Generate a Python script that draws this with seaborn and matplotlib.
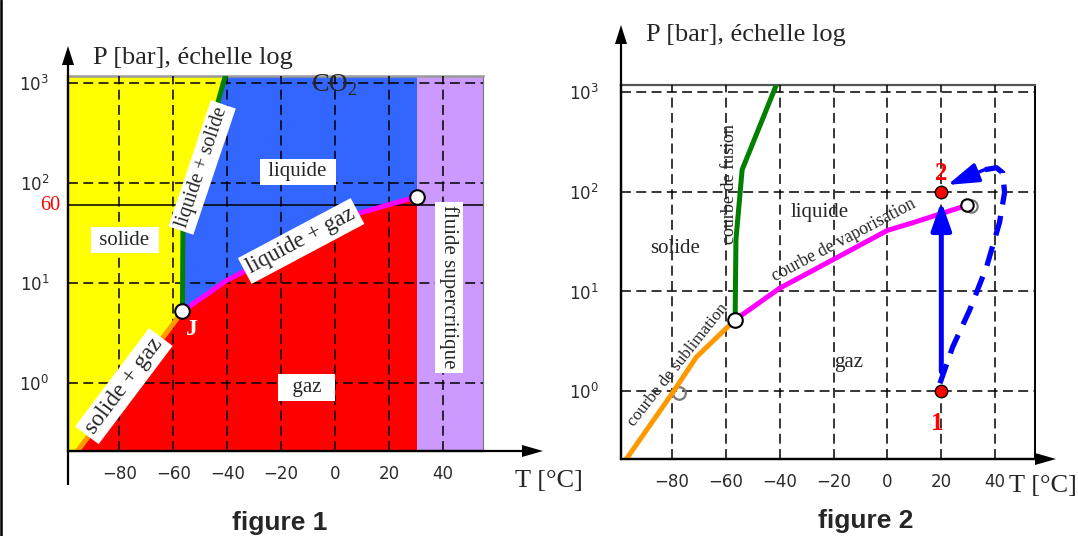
import matplotlib
matplotlib.use("Agg")
import matplotlib.pyplot as plt
import seaborn as sns
from matplotlib.lines import Line2D
from matplotlib.patches import Polygon
from matplotlib.ticker import FixedLocator, NullLocator
from matplotlib.transforms import blended_transform_factory

# ---------------------------------------------------------------- data
# axis ranges and ticks: temperature in °C, pressure in bar (log scale)
T_RANGE = (-99.0, 54.8)
P_RANGE = (0.209, 1175.0)
T_TICKS = [-80, -60, -40, -20, 0, 20, 40]
P_TICKS = [1, 10, 100, 1000]

# triple point J and critical point of CO2
T_TRIPLE, P_TRIPLE = -56.6, 5.2
T_CRIT, P_CRIT = 30.4, 73.0
P_MARK = 60  # isobar drawn in figure 1

# figure 1 : phase boundaries
f1_sub_T = [-95.5, -61.0, T_TRIPLE]
f1_sub_P = [0.209, 3.6, P_TRIPLE]
f1_fus_T = [T_TRIPLE, -56.4, -40.7]
f1_fus_P = [P_TRIPLE, 36.0, 1175.0]
f1_vap_T = [T_TRIPLE, -40.0, 9.0, T_CRIT]
f1_vap_P = [P_TRIPLE, 10.7, 50.0, P_CRIT]

# figure 2 : phase boundaries
f2_sub_T = [-97.0, -80.0, -71.0, T_TRIPLE]
f2_sub_P = [0.209, 0.95, 2.2, P_TRIPLE]
f2_fus_T = [T_TRIPLE, -56.3, -54.0, -41.3]
f2_fus_P = [P_TRIPLE, 33.0, 166.0, 1175.0]
f2_vap_T = [T_TRIPLE, -40.0, -20.0, 0.0, 9.0, 29.5]
f2_vap_P = [P_TRIPLE, 10.8, 21.0, 41.0, 48.5, 73.0]
f2_crit_T = [31.0, 29.6]
f2_crit_P = [72.5, 73.0]

# figure 2 : states 1 and 2 and the two paths between them
state_T = [20, 20]
state_P = [1, 100]
state_names = ["1", "2"]
detour_T = [19.5, 24.2, 30.5, 36.8, 41.6, 43.5, 42.8, 40.5, 36.0]
detour_P = [1.2, 2.77, 6.5, 17.6, 49.0, 98.0, 155.0, 174.0, 166.0]
detour_tip_T, detour_tip_P = 22.3, 117.0

# ---------------------------------------------------------------- style
sns.set_style("white")
plt.rcParams["font.family"] = ["DejaVu Sans"]
SERIF = ["Liberation Serif", "DejaVu Serif"]
SANS = ["Liberation Sans", "DejaVu Sans"]

YELLOW, BLUE, RED, PURPLE = "#FFFF00", "#3366FF", "#FF0000", "#CC99FF"
C_SUB, C_FUS, C_VAP = "#FF9900", "#007F00", "#FF00FF"
C_PATH = "#0000FF"
TICK_COLOR = "#2b2b2b"
GRID_DASH = (0, (6.5, 3.5))
CURVE_LW = 3.6

W, H = 1078, 536
fig = plt.figure(figsize=(W / 100, H / 100), dpi=100)
fig.patch.set_facecolor("white")


def fx(px):
    return px / W


def fy(py):
    return 1 - py / H


ax1 = fig.add_axes([fx(68), fy(451), 415 / W, 375 / H])
ax2 = fig.add_axes([fx(621), fy(459), 414 / W, 374 / H])

for ax in (ax1, ax2):
    ax.set_yscale("log")
    ax.set_xlim(*T_RANGE)
    ax.set_ylim(*P_RANGE)
    ax.xaxis.set_major_locator(FixedLocator(T_TICKS))
    ax.yaxis.set_major_locator(FixedLocator(P_TICKS))
    ax.yaxis.set_minor_locator(NullLocator())
    ax.xaxis.set_minor_locator(NullLocator())
    ax.set_facecolor("none")
    ax.grid(True, which="major", color="black", lw=1.1, linestyle=GRID_DASH)
    ax.set_axisbelow(False)
    ax.set_xlabel("")
    ax.set_ylabel("")
    for lab in ax.get_xticklabels() + ax.get_yticklabels():
        lab.set_color(TICK_COLOR)

ax1.tick_params(axis="both", length=0, labelsize=12, labelcolor=TICK_COLOR)
ax1.tick_params(axis="x", pad=10)
ax1.tick_params(axis="y", pad=13.5)
ax2.tick_params(axis="both", direction="out", length=3, width=1.2,
                labelsize=12, labelcolor=TICK_COLOR)
ax2.tick_params(axis="x", pad=7)
ax2.tick_params(axis="y", pad=13)

for ax in (ax1, ax2):
    ax.spines["left"].set(color="black", lw=1.6)
    ax.spines["bottom"].set(color="black", lw=1.6)
ax1.spines["top"].set(color="#9a9a9a", lw=1.8)
ax1.spines["right"].set(color="#777777", lw=0.8)
ax2.spines["top"].set(color="#555555", lw=1.6)
ax2.spines["right"].set(color="black", lw=1.4)

# ---------------------------------------------------------------- figure 1
p_lo, p_hi = P_RANGE[0], P_RANGE[1] * 1.05
t_lo = T_RANGE[0]

solid_xy = ([(t_lo, p_lo)] + list(zip(f1_sub_T, f1_sub_P))
            + list(zip(f1_fus_T[1:], f1_fus_P[1:]))
            + [(f1_fus_T[-1], p_hi), (t_lo, p_hi)])
gas_xy = (list(zip(f1_sub_T, f1_sub_P)) + list(zip(f1_vap_T[1:], f1_vap_P[1:]))
          + [(T_CRIT, p_lo)])
liquid_xy = (list(zip(f1_fus_T, f1_fus_P)) + [(f1_fus_T[-1], p_hi), (T_CRIT, p_hi)]
             + list(zip(f1_vap_T[::-1], f1_vap_P[::-1])))

ax1.add_patch(Polygon(solid_xy, closed=True, fc=YELLOW, ec="none", zorder=1))
ax1.add_patch(Polygon(gas_xy, closed=True, fc=RED, ec="none", zorder=1))
ax1.add_patch(Polygon(liquid_xy, closed=True, fc=BLUE, ec="none", zorder=1))
ax1.axvspan(T_CRIT, T_RANGE[1], color=PURPLE, lw=0, zorder=1)

ax1.axhline(P_MARK, color="black", lw=1.1, zorder=3)

for T, P, col in ((f1_sub_T, f1_sub_P, C_SUB), (f1_fus_T, f1_fus_P, C_FUS),
                  (f1_vap_T, f1_vap_P, C_VAP)):
    sns.lineplot(x=T, y=P, ax=ax1, sort=False, estimator=None, color=col,
                 lw=CURVE_LW, zorder=4, legend=False)

sns.scatterplot(x=[T_TRIPLE, T_CRIT], y=[P_TRIPLE, P_CRIT], ax=ax1, s=110,
                color="white", edgecolor="black", linewidth=1.5, zorder=7,
                legend=False)

box = dict(boxstyle="square,pad=0.18", fc="white", ec="none")
lab_kw = dict(family=SERIF, ha="center", va="center", zorder=6, bbox=box)
ax1.text(-78.0, 26.9, " solide ", size=15, **lab_kw)
ax1.text(-13.9, 129, " liquide ", size=15, **lab_kw)
ax1.text(-10.6, 0.90, "  gaz  ", size=15, **lab_kw)
ax1.text(-49.3, 143, "liquide + solide", size=14.5, rotation=71.4, **lab_kw)
ax1.text(-12.6, 26.3, "liquide + gaz", size=16.5, rotation=28, **lab_kw)
ax1.text(-78.3, 0.93, "solide + gaz", size=17, rotation=53, **lab_kw)
ax1.text(42.2, 9.1, "fluide supercritique", size=15, rotation=270, **lab_kw)

ax1.text(-53.0, 3.4, "J", family=SERIF, size=17, weight="bold", color="white",
         ha="center", va="center", zorder=6)
ax1.text(-8.5, 832, "CO", family=SERIF, size=19, ha="left", va="baseline", zorder=6)
ax1.text(4.4, 759, "2", family=SERIF, size=13, ha="left", va="baseline", zorder=6)

trans1 = blended_transform_factory(ax1.transAxes, ax1.transData)
ax1.text(-0.044, P_MARK, str(P_MARK), transform=trans1, family=SERIF, size=14.5,
         color="#ff0000", ha="center", va="center")

# ---------------------------------------------------------------- figure 2
for T, P, col in ((f2_sub_T, f2_sub_P, C_SUB), (f2_fus_T, f2_fus_P, C_FUS),
                  (f2_vap_T, f2_vap_P, C_VAP)):
    sns.lineplot(x=T, y=P, ax=ax2, sort=False, estimator=None, color=col,
                 lw=CURVE_LW, zorder=4, legend=False)

ax2.plot([-77.6], [0.97], marker="o", ms=9, mfc="none", mec="#777777", mew=1.6,
         zorder=3.5)

sns.scatterplot(x=[T_TRIPLE], y=[P_TRIPLE], ax=ax2, s=110, color="white",
                edgecolor="black", linewidth=1.5, zorder=7, legend=False)
sns.scatterplot(x=f2_crit_T[:1], y=f2_crit_P[:1], ax=ax2, s=80, color="white",
                edgecolor="#777777", linewidth=1.5, zorder=6, legend=False)
sns.scatterplot(x=f2_crit_T[1:], y=f2_crit_P[1:], ax=ax2, s=80, color="white",
                edgecolor="black", linewidth=1.5, zorder=7, legend=False)

# isothermal compression 1 -> 2 and the detour around the critical point
ax2.annotate("", xy=(state_T[1], state_P[1]), xytext=(state_T[0], state_P[0]),
             arrowprops=dict(arrowstyle="-|>,head_length=0.85,head_width=0.3",
                             mutation_scale=20, color=C_PATH, lw=3.6,
                             shrinkA=14, shrinkB=7), zorder=5)
sns.lineplot(x=detour_T, y=detour_P, ax=ax2, sort=False, estimator=None,
             color=C_PATH, lw=3.8, linestyle=(0, (3.8, 2.2)), zorder=5,
             legend=False)
ax2.annotate("", xy=(detour_tip_T, detour_tip_P), xytext=(detour_T[-1], detour_P[-1]),
             arrowprops=dict(arrowstyle="-|>,head_length=0.95,head_width=0.3",
                             mutation_scale=20, color=C_PATH, lw=2.5,
                             shrinkA=0, shrinkB=0), zorder=5)

sns.scatterplot(x=state_T, y=state_P, ax=ax2, s=80, color="#ff0000",
                edgecolor="black", linewidth=1.0, zorder=8, legend=False)
ax2.text(18.6, 0.477, state_names[0], family=SERIF, size=18, weight="bold",
         color="#ff0000", ha="center", va="center")
ax2.text(20.1, 151, state_names[1], family=SERIF, size=18, weight="bold",
         color="#ff0000", ha="center", va="center")

txt_kw = dict(family=SERIF, ha="center", va="center", zorder=6)
ax2.text(-78.8, 26.7, "solide", size=15, **txt_kw)
ax2.text(-25.3, 61.5, "liquide", size=15, **txt_kw)
ax2.text(-14.5, 1.96, "gaz", size=15, **txt_kw)
ax2.text(-58.7, 120, "courbe de fusion", size=13, rotation=90, **txt_kw)
ax2.text(-16.4, 33, "courbe de vaporisation", size=12.7, rotation=27.8, **txt_kw)
ax2.text(-77.7, 1.83, "courbe de sublimation", size=12.3, rotation=51.6, **txt_kw)

# ---------------------------------------------------------------- axis arrows and titles
def seg(p0, p1, lw=1.6):
    fig.add_artist(Line2D([fx(p0[0]), fx(p1[0])], [fy(p0[1]), fy(p1[1])],
                          color="black", lw=lw, solid_capstyle="butt"))


def head(tip, b1, b2):
    fig.add_artist(Polygon([(fx(tip[0]), fy(tip[1])), (fx(b1[0]), fy(b1[1])),
                            (fx(b2[0]), fy(b2[1]))], closed=True, fc="black",
                           ec="none", transform=fig.transFigure))


# figure 1 axes
seg((68, 485), (68, 62))
head((68, 46), (62, 65), (74, 65))
seg((68, 451), (525, 451))
head((543, 451), (522, 445), (522, 457))
# figure 2 axes
seg((621, 459), (621, 40))
head((621, 25), (615, 44), (627, 44))
seg((621, 459), (1038, 459))
head((1056, 459), (1035, 453), (1035, 465))

# thin rule along the left edge
fig.add_artist(Line2D([fx(1.2), fx(1.2)], [0, 1], color="black", lw=1.8))

fig.text(fx(92.7), fy(64), "P [bar], échelle log", family=SERIF, size=19,
         ha="left", va="baseline")
fig.text(fx(646), fy(41), "P [bar], échelle log", family=SERIF, size=19,
         ha="left", va="baseline")
fig.text(fx(515), fy(487), "T [°C]", family=SERIF, size=19, ha="left", va="baseline")
fig.text(fx(1009), fy(492), "T [°C]", family=SERIF, size=19, ha="left", va="baseline")
fig.text(fx(280), fy(530), "figure 1", family=SANS, weight="bold", size=19,
         ha="center", va="baseline")
fig.text(fx(866), fy(528), "figure 2", family=SANS, weight="bold", size=19,
         ha="center", va="baseline")

fig.savefig("out.png", dpi=100, facecolor="white")
